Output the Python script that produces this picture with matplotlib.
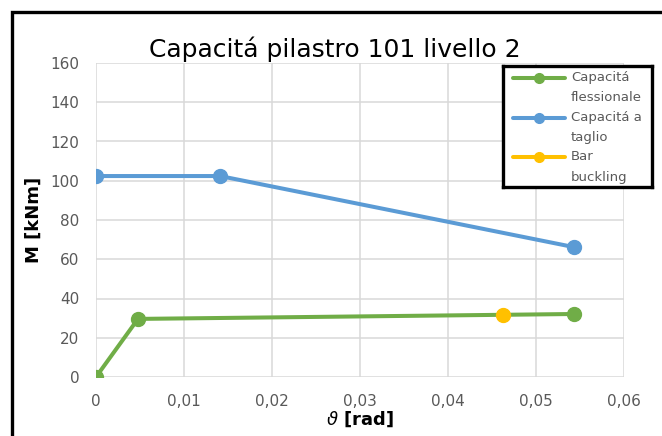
import matplotlib
matplotlib.use("Agg")
import matplotlib.pyplot as plt
from matplotlib.patches import Rectangle

plt.rcParams['font.family'] = ['Liberation Sans Narrow', 'DejaVu Sans']
plt.rcParams['mathtext.fontset'] = 'dejavusans'

# Rotation (rad) and moment (kNm) for each curve
flex_theta = [0.0, 0.00477, 0.0543]
flex_m = [0.0, 29.6, 32.1]
shear_theta = [0.0, 0.0141, 0.0543]
shear_m = [102.4, 102.4, 66.2]
buckling_theta = [0.04625]
buckling_m = [31.6]

series_labels = ["Capacitá\nflessionale", "Capacitá a\ntaglio", "Bar\nbuckling"]
series_colors = ["#70AD47", "#5B9BD5", "#FFC000"]

x_ticks = [0.0, 0.01, 0.02, 0.03, 0.04, 0.05, 0.06]
x_tick_labels = ["0", "0,01", "0,02", "0,03", "0,04", "0,05", "0,06"]
y_ticks = [0, 20, 40, 60, 80, 100, 120, 140, 160]

W, H = 662, 436
fig = plt.figure(figsize=(W / 100, H / 100), dpi=100)
fig.patch.set_facecolor("white")

ax = fig.add_axes([96 / W, 1 - 377 / H, 528 / W, 314 / H])
lw = 2.9
ms = 10
ax.plot(flex_theta, flex_m, color=series_colors[0], lw=lw, marker="o", ms=ms, zorder=3,
        solid_capstyle="round")
ax.plot(shear_theta, shear_m, color=series_colors[1], lw=lw, marker="o", ms=ms, zorder=3,
        solid_capstyle="round")
ax.plot(buckling_theta, buckling_m, color=series_colors[2], lw=lw, marker="o", ms=ms,
        zorder=4, linestyle="none")

ax.set_xlim(0, 0.06)
ax.set_ylim(0, 160)
ax.set_xticks(x_ticks)
ax.set_xticklabels(x_tick_labels)
ax.set_yticks(y_ticks)
ax.grid(True, color="#D9D9D9", lw=1.1)
ax.set_axisbelow(True)
for s in ax.spines.values():
    s.set_visible(False)
ax.tick_params(length=0, labelsize=11, labelcolor="#595959", pad=12)

ax.set_xlabel(r"$\vartheta$ [rad]", fontsize=13, fontweight="bold")
ax.set_ylabel("M [kNm]", fontsize=13, fontweight="bold")
ax.xaxis.set_label_coords(0.5, -0.105)
ax.yaxis.set_label_coords(-0.10, 0.5)

# Title centred over the whole chart area rather than the plot area
ax.set_title("Capacitá pilastro 101 livello 2", fontsize=18, pad=4, x=0.453)

# Legend panel with thick black frame
lax = fig.add_axes([503 / W, 1 - 187 / H, 149 / W, 121 / H])
lax.set_xlim(0, 149)
lax.set_ylim(121, 0)
lax.set_xticks([])
lax.set_yticks([])
for s in lax.spines.values():
    s.set_linewidth(2.4)
    s.set_color("black")
row_y = [12, 52, 91]
for label, color, y in zip(series_labels, series_colors, row_y):
    lax.plot([10, 62], [y, y], color=color, lw=lw, solid_capstyle="round")
    lax.plot([36], [y], color=color, marker="o", ms=7)
    for i, part in enumerate(label.split("\n")):
        lax.text(68, y + i * 20, part, fontsize=9.5, color="#595959", va="center", ha="left")

# Outer chart frame; only its top and left edges fall inside the image
fig.add_artist(Rectangle((12 / W, -0.2), 1.2, 1.2 - 12 / H, fill=False,
                         edgecolor="black", lw=2.4, transform=fig.transFigure,
                         joinstyle="miter"))

fig.savefig("out.png", dpi=100)
